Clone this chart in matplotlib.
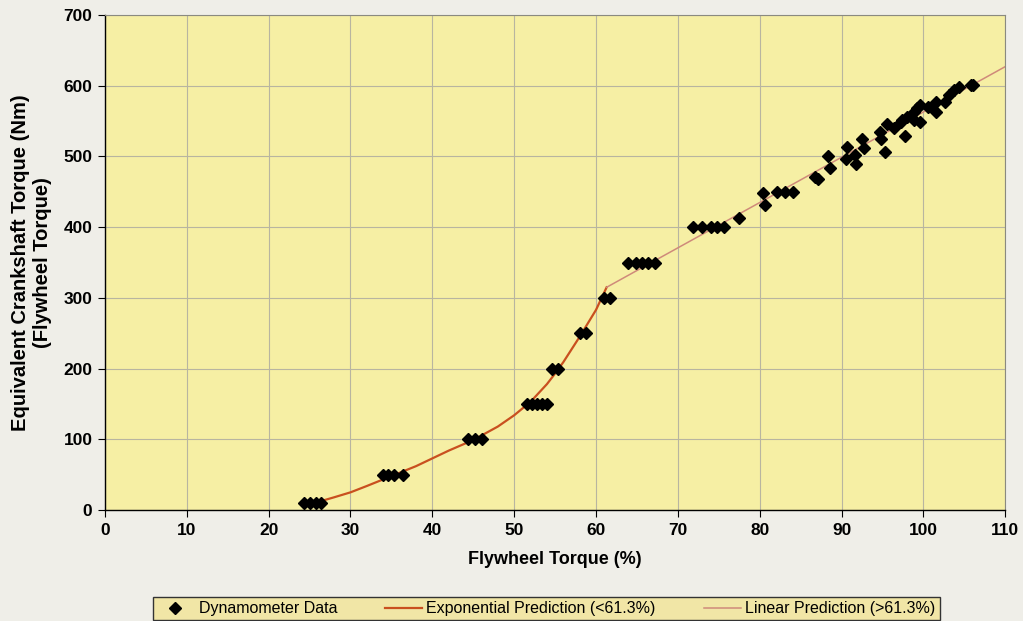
import matplotlib.pyplot as plt
import numpy as np

plt.rcParams['font.family'] = ['Liberation Sans', 'DejaVu Sans']

# Dynamometer data
dyno_x = [24.3, 25.1, 25.8, 26.4,
          34.0, 34.6, 35.3, 36.4,
          44.4, 45.2, 46.1,
          51.6, 52.2, 52.8, 53.4, 54.0,
          54.6, 55.4,
          58.1, 58.8,
          61.0, 61.7,
          63.9, 64.9, 65.6, 66.3, 67.2,
          71.9, 73.0, 74.0, 74.8, 75.6,
          77.5, 80.4, 80.7, 82.1, 83.1, 84.1,
          86.8, 87.1, 88.3, 88.6, 90.7, 90.5, 91.7, 91.8, 92.5, 92.8,
          94.7, 94.8, 95.3, 95.6, 96.4, 97.3, 97.8, 97.4, 98.0, 98.8,
          98.8, 99.2, 99.6, 99.6, 100.6, 101.5, 101.5, 102.7, 103.1,
          103.7, 104.3, 105.8, 106.1]
dyno_y = [10, 10, 10, 10,
          50, 50, 50, 50,
          100, 100, 100,
          150, 150, 150, 150, 150,
          200, 200,
          250, 250,
          300, 300,
          350, 350, 350, 350, 350,
          400, 400, 400, 400, 400,
          413, 448, 431, 450, 450, 450,
          471, 468, 500, 484, 514, 497, 502, 490, 525, 512,
          535, 525, 507, 546, 540, 549, 529, 552, 556, 563,
          552, 568, 573, 549, 570, 577, 563, 577, 587,
          594, 598, 601, 601]

# exponential prediction (<61.3%)
exp_x = [26.5, 28, 30, 32, 35, 38, 40, 42, 45, 48, 50, 52, 54, 55, 56, 58, 60, 61.3]
exp_y = [13, 18, 25, 34, 48, 62, 73, 84, 99, 118, 134, 153, 178, 193, 209, 245, 283, 315]

# linear prediction (>61.3%)
lin_x = [61.3, 110]
lin_y = [315, 627]

fig = plt.figure(figsize=(10.23, 6.21), dpi=100)
fig.patch.set_facecolor('#efeee8')
ax = fig.add_axes([0.1026, 0.1787, 0.8800, 0.7971])
ax.set_facecolor('#f6efa4')

ax.plot(dyno_x, dyno_y, ls='', marker='D', ms=6, color='black', label='Dynamometer Data', zorder=4)
ax.plot(exp_x, exp_y, color='#c9501f', lw=1.6, label='Exponential Prediction (<61.3%)', zorder=3)
ax.plot(lin_x, lin_y, color='#cf8a7a', lw=1.1, label='Linear Prediction (>61.3%)', zorder=3)

ax.set_xlim(0, 110)
ax.set_ylim(0, 700)
ax.set_xticks(np.arange(0, 111, 10))
ax.set_yticks(np.arange(0, 701, 100))
ax.grid(True, color='#b8b5a0', lw=0.8)
ax.set_axisbelow(True)

for s in ['top', 'right']:
    ax.spines[s].set_color('#8a8a80')
for s in ['left', 'bottom']:
    ax.spines[s].set_color('black')
    ax.spines[s].set_linewidth(1.0)

ax.tick_params(direction='out', length=5, labelsize=12.5, pad=4)
for lab in ax.get_xticklabels() + ax.get_yticklabels():
    lab.set_fontweight('bold')

ax.set_xlabel('Flywheel Torque (%)', fontsize=13, fontweight='bold', labelpad=10)
ax.set_ylabel('Equivalent Crankshaft Torque (Nm)\n(Flywheel Torque)', fontsize=14.5,
              fontweight='bold', labelpad=8, linespacing=1.25)

leg = fig.legend(loc='lower center', bbox_to_anchor=(0.534, -0.012), ncol=3, fontsize=11.5,
                 frameon=True, fancybox=False, facecolor='#f1e6a6', edgecolor='#333333',
                 handlelength=2.3, handletextpad=0.3, columnspacing=3.0, borderpad=0.25)
leg.get_frame().set_alpha(1)

plt.savefig('out.png', dpi=100, facecolor=fig.get_facecolor())
